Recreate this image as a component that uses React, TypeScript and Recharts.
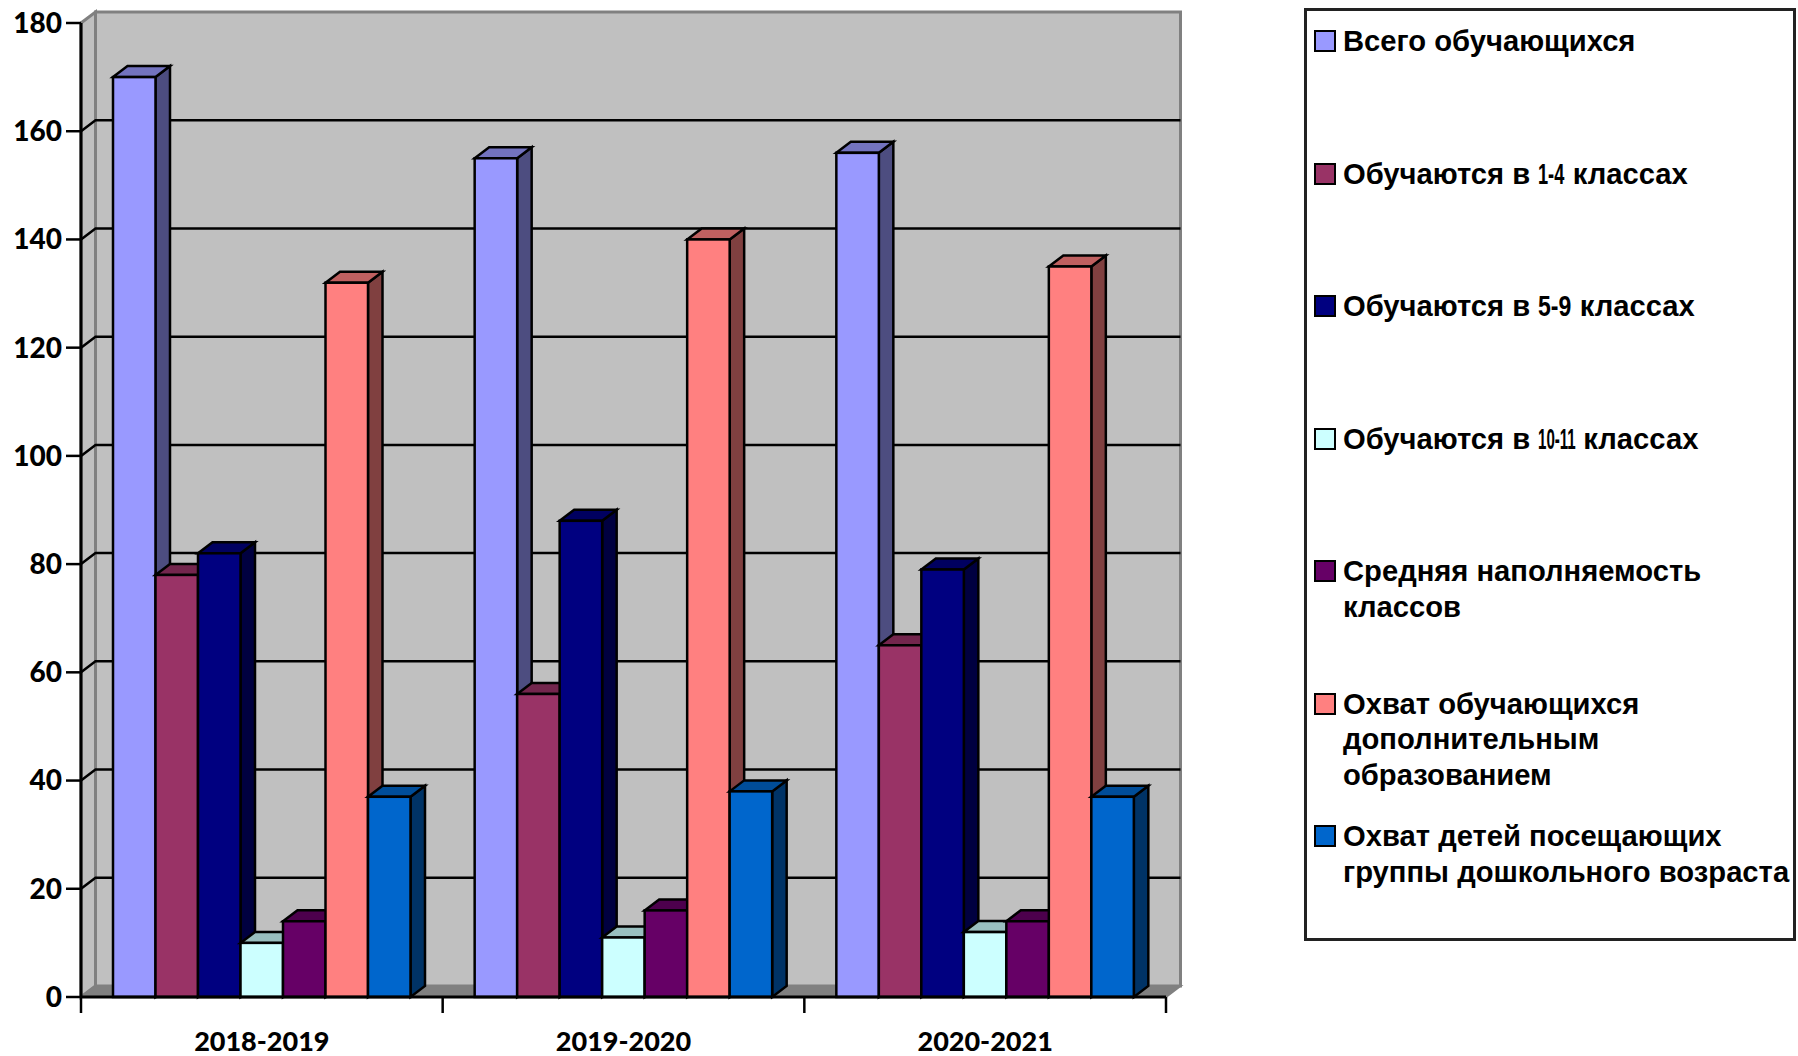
import { BarChart, Bar, XAxis, YAxis, CartesianGrid, Legend, usePlotArea } from 'recharts';

const years = ['2018-2019', '2019-2020', '2020-2021'];
const total = [170, 155, 156];
const grades14 = [78, 56, 65];
const grades59 = [82, 88, 79];
const grades1011 = [10, 11, 12];
const avgClassSize = [14, 16, 14];
const extraEducation = [132, 140, 135];
const preschool = [37, 38, 37];
const yTicks = [0, 20, 40, 60, 80, 100, 120, 140, 160, 180];
const gridValues = [20, 40, 60, 80, 100, 120, 140, 160];

const chartData = years.map((year, i) => ({
  year,
  total: total[i],
  grades14: grades14[i],
  grades59: grades59[i],
  grades1011: grades1011[i],
  avgClassSize: avgClassSize[i],
  extraEducation: extraEducation[i],
  preschool: preschool[i],
}));

const SERIES = [
  { key: 'total', name: 'Всего обучающихся', color: '#9999ff' },
  { key: 'grades14', name: 'Обучаются в 1-4 классах', color: '#993366' },
  { key: 'grades59', name: 'Обучаются в 5-9 классах', color: '#000080' },
  { key: 'grades1011', name: 'Обучаются в 10-11 классах', color: '#ccffff' },
  { key: 'avgClassSize', name: 'Средняя наполняемость\nклассов', color: '#660066' },
  { key: 'extraEducation', name: 'Охват обучающихся\nдополнительным\nобразованием', color: '#ff8080' },
  { key: 'preschool', name: 'Охват детей посещающих\nгруппы дошкольного возраста', color: '#0066cc' },
];

// depth of the fake 3D box
const DX = 14.5;
const DY = 11;
const AXIS_FONT = 'Lato, sans-serif';

function shade(hex: string, k: number) {
  const n = parseInt(hex.slice(1), 16);
  const r = Math.round(((n >> 16) & 255) * k);
  const g = Math.round(((n >> 8) & 255) * k);
  const b = Math.round((n & 255) * k);
  return `rgb(${r},${g},${b})`;
}

function Box3D(props: any) {
  const { x, y, width, height, fill } = props;
  const b = y + height;
  const r = x + width;
  return (
    <g stroke="#000" strokeWidth={2.5} strokeLinejoin="miter">
      <polygon points={`${r},${y} ${r + DX},${y - DY} ${r + DX},${b - DY} ${r},${b}`} fill={shade(fill, 0.5)} />
      <polygon points={`${x},${y} ${x + DX},${y - DY} ${r + DX},${y - DY} ${r},${y}`} fill={shade(fill, 0.75)} />
      <rect x={x} y={y} width={width} height={height} fill={fill} />
    </g>
  );
}

function Walls() {
  const plot = usePlotArea();
  if (!plot) return null;
  const { x, y, width, height } = plot;
  const r = x + width;
  const b = y + height;
  return (
    <g>
      <polygon
        points={`${x + DX},${y - DY} ${r + DX},${y - DY} ${r + DX},${b - DY} ${x + DX},${b - DY}`}
        fill="#c0c0c0"
        stroke="#808080"
        strokeWidth={3}
      />
      <polygon
        points={`${x},${y} ${x + DX},${y - DY} ${x + DX},${b - DY} ${x},${b}`}
        fill="#c0c0c0"
        stroke="#808080"
        strokeWidth={3}
      />
      <polygon
        points={`${x},${b} ${x + DX},${b - DY} ${r + DX},${b - DY} ${r},${b}`}
        fill="#808080"
        stroke="#808080"
        strokeWidth={2}
      />
    </g>
  );
}

// ticks between the groups, the category axis only puts them at the centres
function GroupTicks() {
  const plot = usePlotArea();
  if (!plot) return null;
  const { x, y, width, height } = plot;
  const step = width / years.length;
  return (
    <g stroke="#000" strokeWidth={2.5}>
      {[0, 1, 2, 3].map((i) => (
        <line key={i} x1={x + i * step} x2={x + i * step} y1={y + height} y2={y + height + 16} />
      ))}
    </g>
  );
}

function gridLine(props: any) {
  const { x1, x2, y1, key } = props;
  return (
    <polyline
      key={key}
      points={`${x1},${y1} ${x1 + DX},${y1 - DY} ${x2 + DX},${y1 - DY}`}
      fill="none"
      stroke="#000"
      strokeWidth={2.5}
    />
  );
}

// the digits in the original legend are much narrower than the letters, squeeze them
function digitsWidth(part: string, narrow: boolean) {
  let w = 0;
  for (const c of part) {
    if (c === '-') w += narrow ? 0.24 : 0.333;
    else if (c === '1') w += narrow ? 0.21 : 0.556;
    else w += narrow ? 0.45 : 0.556;
  }
  return w;
}

function legendText(text: string) {
  return text.split(/(\d[\d-]*)/).map((part, i) => {
    if (i % 2 === 0) return part;
    const full = digitsWidth(part, false);
    const thin = digitsWidth(part, true);
    return (
      <span
        key={i}
        style={{
          display: 'inline-block',
          transform: `scaleX(${thin / full})`,
          transformOrigin: 'left',
          marginRight: `${thin - full}em`,
        }}
      >
        {part}
      </span>
    );
  });
}

function LegendBox({ payload }: any) {
  return (
    <div
      style={{
        boxSizing: 'border-box',
        width: 492,
        height: 933,
        border: '3px solid #222',
        background: '#fff',
        paddingTop: 13,
        paddingLeft: 7,
      }}
    >
      {(payload || []).map((item: any) => (
        <div key={item.value} style={{ height: 132.5, display: 'flex', alignItems: 'flex-start' }}>
          <span
            style={{
              boxSizing: 'border-box',
              width: 22,
              height: 22,
              marginTop: 6,
              marginRight: 7,
              flex: 'none',
              background: item.color,
              border: '2.5px solid #000',
            }}
          />
          <span
            style={{
              whiteSpace: 'pre-line',
              fontFamily: '"Liberation Sans", sans-serif',
              fontWeight: 700,
              fontSize: 29.2,
              lineHeight: '35.5px',
              color: '#000',
            }}
          >
            {legendText(item.value)}
          </span>
        </div>
      ))}
    </div>
  );
}

export default function App() {
  return (
    <div style={{ position: 'absolute', left: 0, top: 0, width: 1798, height: 1056, background: '#fff' }}>
      <BarChart
        width={1798}
        height={1056}
        data={chartData}
        margin={{ top: 23, right: 632, bottom: 0, left: 0 }}
        barGap={0}
        barSize={42.5}
      >
        <Walls />
        <CartesianGrid vertical={false} horizontal={gridLine} horizontalValues={gridValues} zIndex={1} />
        <XAxis
          dataKey="year"
          height={59}
          axisLine={{ stroke: '#000', strokeWidth: 3 }}
          tickLine={false}
          tickMargin={29}
          tick={{ fontSize: 27, fontWeight: 900, fontFamily: AXIS_FONT, fill: '#000' }}
        />
        <YAxis
          width={81}
          domain={[0, 180]}
          ticks={yTicks}
          interval={0}
          tickSize={15}
          tickMargin={4}
          axisLine={{ stroke: '#000', strokeWidth: 3 }}
          tickLine={{ stroke: '#000', strokeWidth: 2.5 }}
          tick={{ fontSize: 28, fontWeight: 900, fontFamily: AXIS_FONT, fill: '#000' }}
        />
        <Legend
          layout="vertical"
          align="center"
          verticalAlign="middle"
          itemSorter={null}
          content={<LegendBox />}
          wrapperStyle={{ left: 1304, top: 8, width: 492, height: 933 }}
        />
        {SERIES.map((s) => (
          <Bar key={s.key} dataKey={s.key} name={s.name} fill={s.color} shape={<Box3D />} isAnimationActive={false} />
        ))}
        <GroupTicks />
      </BarChart>
    </div>
  );
}
